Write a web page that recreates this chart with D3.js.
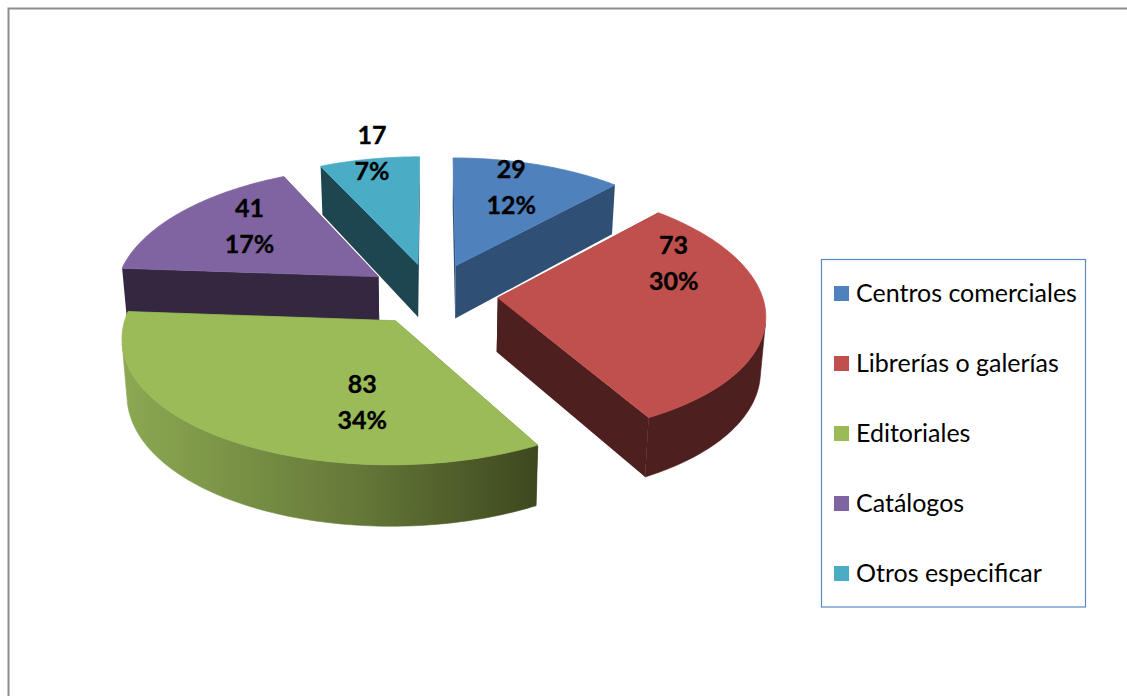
<!DOCTYPE html>
<html><head><meta charset="utf-8">
<style>html,body{margin:0;padding:0;background:#fff}svg{display:block}text{font-family:Lato,"Open Sans",sans-serif}</style>
<script src="https://cdnjs.cloudflare.com/ajax/libs/d3/7.8.5/d3.min.js"></script>
</head><body><svg id="c" width="1127" height="696"></svg>
<script>
const categories = ["Centros comerciales","Librerías o galerías","Editoriales","Catálogos","Otros especificar"];
const values = [29,73,83,41,17];
const percents = ["12%","30%","34%","17%","7%"];
const topColors = ["#4f81bd","#c0504d","#9bbb59","#8064a2","#4bacc6"];
const wallColors = ["#2f4f75","#4d1f1e","#3f4a20","#33283f","#1e4651"];
const labelAngles = [18.7,67.6,190,309.4,348.7];
const labelRadii = [0.756,0.752,0.60,0.69,1.06];
const drawOrder = [0,4,3,1,2];

const svg = d3.select("#c");
// frame
svg.append("path").attr("d","M8.5,696V8.5H1127").attr("fill","none").attr("stroke","#8c8c8c").attr("stroke-width",2);

const cx=432, cy=294, Rx=264, Ry=124, kx=0.12, ky=0.1, depth=54, explode=0.25;
function project(x,y,z){ // x right, y toward viewer, z downward (0..1)
  const sx=1/(1-kx*y), sy=1/(1-ky*y);
  const v=1-0.016*z;
  return [cx+Rx*x*sx*v, cy+Ry*y*sy+depth*z*sy];
}
const pie=d3.pie().sort(null).value(d=>d);
const arcs=pie(values);
const line=d3.line();
const defs=svg.append("defs");
const wallGrad=defs.append("linearGradient").attr("id","greenWall").attr("gradientUnits","userSpaceOnUse")
  .attr("x1",125).attr("x2",537).attr("y1",0).attr("y2",0);
wallGrad.append("stop").attr("offset",0).attr("stop-color","#8ca852");
wallGrad.append("stop").attr("offset",0.55).attr("stop-color","#667a39");
wallGrad.append("stop").attr("offset",1).attr("stop-color","#3e481f");

function slicePoint(a,i,t,r,z){
  const m=(a.startAngle+a.endAngle)/2;
  const x=explode*Math.sin(m)+r*Math.sin(t);
  const y=-explode*Math.cos(m)-r*Math.cos(t);
  return project(x,y,z);
}
function angles(a){return d3.range(0,121).map(j=>a.startAngle+(a.endAngle-a.startAngle)*j/120);}

drawOrder.forEach(i=>{
  const a=arcs[i], g=svg.append("g");
  const wall=(t)=>[slicePoint(a,i,t,0,0),slicePoint(a,i,t,1,0),slicePoint(a,i,t,1,1),slicePoint(a,i,t,0,1)];
  [a.startAngle,a.endAngle].forEach(t=>{
    g.append("path").attr("d",line(wall(t))+"Z").attr("fill",wallColors[i]);
  });
  // keep only the part of the outer wall that faces the viewer (no fold at the silhouette)
  const quad=(t0,t1)=>[slicePoint(a,i,t0,1,0),slicePoint(a,i,t1,1,0),slicePoint(a,i,t1,1,1),slicePoint(a,i,t0,1,1)];
  const facing=d3.pairs(angles(a)).filter(([t0,t1])=>Math.cos(t0)<0.3 && d3.polygonArea(quad(t0,t1))>0);
  if(facing.length){
    const front=[facing[0][0]].concat(facing.map(p=>p[1]));
    const pts=front.map(t=>slicePoint(a,i,t,1,0)).concat(front.slice().reverse().map(t=>slicePoint(a,i,t,1,1)));
    const fill=i===2?"url(#greenWall)":wallColors[i];
    g.append("path").attr("d",line(pts)+"Z").attr("fill",fill).attr("stroke",fill).attr("stroke-width",0.6);
  }
  const top=[slicePoint(a,i,0,0,0)].concat(angles(a).map(t=>slicePoint(a,i,t,1,0)));
  g.append("path").attr("d",line(top)+"Z").attr("fill",topColors[i]).attr("stroke",topColors[i]).attr("stroke-width",0.8);
});

arcs.forEach((a,i)=>{
  const p=slicePoint(a,i,labelAngles[i]*Math.PI/180,labelRadii[i],0);
  const t=svg.append("text").attr("text-anchor","middle").attr("font-size",25).attr("font-weight",700)
    .attr("fill","#000").attr("stroke","#000").attr("stroke-width",0.35);
  t.append("tspan").attr("x",p[0]).attr("y",p[1]-9).text(values[i]);
  t.append("tspan").attr("x",p[0]).attr("y",p[1]+27).text(percents[i]);
});

// legend
svg.append("rect").attr("x",821.5).attr("y",259.5).attr("width",264).attr("height",347.5).attr("fill","#fff").attr("stroke","#5a8ac6").attr("stroke-width",1.2);
const ly=d3.scalePoint().domain(categories).range([293,573]);
const lg=svg.selectAll("g.l").data(categories).join("g").attr("class","l");
lg.append("rect").attr("x",834).attr("y",d=>ly(d)-7).attr("width",15).attr("height",15).attr("fill",(d,i)=>topColors[i]);
lg.append("text").attr("x",856).attr("y",d=>ly(d)+9).attr("font-size",25).attr("fill","#000").text(d=>d);
</script></body></html>
